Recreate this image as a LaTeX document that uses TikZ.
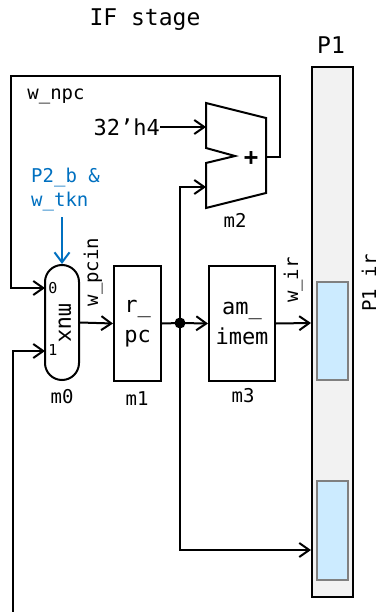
\documentclass[tikz,border=0pt]{standalone}
\usepackage{fontspec}
\setmonofont{DejaVu Sans Mono}
\usetikzlibrary{arrows.meta}
\definecolor{ctlblue}{HTML}{0070C0}
\definecolor{regfill}{HTML}{F2F2F2}
\definecolor{slotfill}{HTML}{CCEBFF}
\definecolor{slotedge}{HTML}{808080}
\begin{document}
\begin{tikzpicture}[x=1pt,y=-1pt,
  every node/.style={font=\ttfamily\fontsize{19}{23}\selectfont, inner sep=0pt},
  wire/.style={line width=2pt, line join=miter},
  arr/.style={wire, -{Straight Barb[length=10pt,width=14pt,line width=2pt]}},
  blk/.style={draw, line width=2pt, fill=white},
  bigtxt/.style={font=\ttfamily\fontsize{23}{27}\selectfont},
  boxtxt/.style={font=\ttfamily\fontsize{22}{30}\selectfont, align=center},
  lbl/.style={anchor=base}
]
\useasboundingbox (0,0) rectangle (380,612);

% titles
\node[bigtxt, lbl] (title) at (145,26) {IF stage};
\node[bigtxt, lbl] (p1lbl) at (331,54) {P1};

% pipeline register P1
\node[draw, line width=2pt, fill=regfill, minimum width=41pt, minimum height=530pt] (p1) at (332.5,332) {};
\node[draw=slotedge, line width=1.8pt, fill=slotfill, minimum width=31pt, minimum height=98pt] (slot1) at (332.5,331) {};
\node[draw=slotedge, line width=1.8pt, fill=slotfill, minimum width=31pt, minimum height=99pt] (slot2) at (332.5,530.5) {};
\node[lbl, rotate=90] (p1ir) at (376,283) {P1 ir};

% mux
\node[blk, rounded corners=17pt, minimum width=34pt, minimum height=115pt] (mux) at (62,322.5) {};
\node[font=\ttfamily\fontsize{22}{26}\selectfont, rotate=-90] (muxt) at (65,323) {mux};
\node[font=\ttfamily\fontsize{15}{18}\selectfont] (in0t) at (53,288) {0};
\node[font=\ttfamily\fontsize{15}{18}\selectfont] (in1t) at (53,350) {1};
\node[lbl] (m0) at (62,403) {m0};
\coordinate (in0) at (45,288);
\coordinate (in1) at (45,351);

% r_pc
\node[blk, boxtxt, minimum width=47pt, minimum height=115pt] (rpc) at (137.5,323.5) {r\_\\pc};
\node[lbl] (m1) at (137,405) {m1};

% am_imem
\node[blk, boxtxt, minimum width=66pt, minimum height=115pt] (imem) at (242,323.5) {am\_\\imem};
\node[lbl] (m3) at (243,402) {m3};

% adder
\draw[line width=2pt, line join=miter, fill=white]
  (206,103) -- (266,118) -- (266,193) -- (206,208) -- (206,163) -- (235,156) -- (206,148) -- cycle;
\node[font=\bfseries\ttfamily\fontsize{24}{28}\selectfont] (plus) at (251,159) {+};
\node[lbl] (m2) at (235,227) {m2};
\coordinate (adda) at (206,127);
\coordinate (addb) at (206,187);
\coordinate (addo) at (266,157);

% labels
\node[lbl] (npc) at (56,100) {w\_npc};
\node[anchor=east, font=\ttfamily\fontsize{22}{26}\selectfont] (c4) at (160,127) {32’h4};
\node[anchor=base west, text=ctlblue] (ctl1) at (31,183) {P2\_b \&};
\node[anchor=base west, text=ctlblue] (ctl2) at (31,207) {w\_tkn};
\node[lbl, rotate=90] (pcin) at (98,272) {w\_pcin};
\node[lbl, rotate=90] (wir) at (298,280) {w\_ir};

% junction
\coordinate (j) at (180,323);
\fill (j) circle (5.5pt);
\coordinate (p1a) at (311,323);
\coordinate (p1b) at (311,550);

% wires
\draw[arr] (addo) -- (280,157) -- (280,76) -- (11,76) -- (11,288) -- (in0);
\draw[arr] (13,612) -- (13,351) -- (in1);
\draw[arr, draw=ctlblue, -{Straight Barb[length=10pt,width=15pt,line width=2pt,color=ctlblue]}] (62,217) -- (mux.north);
\draw[arr] (mux.east) -- (rpc.west);
\draw[wire] (rpc.east) -- (j);
\draw[arr] (j) -- (imem.west);
\draw[arr] (imem.east) -- (p1a);
\draw[arr] (j) -- (180,550) -- (p1b);
\draw[arr] (j) -- (180,187) -- (addb);
\draw[arr] (c4) -- (adda);
\end{tikzpicture}
\end{document}
